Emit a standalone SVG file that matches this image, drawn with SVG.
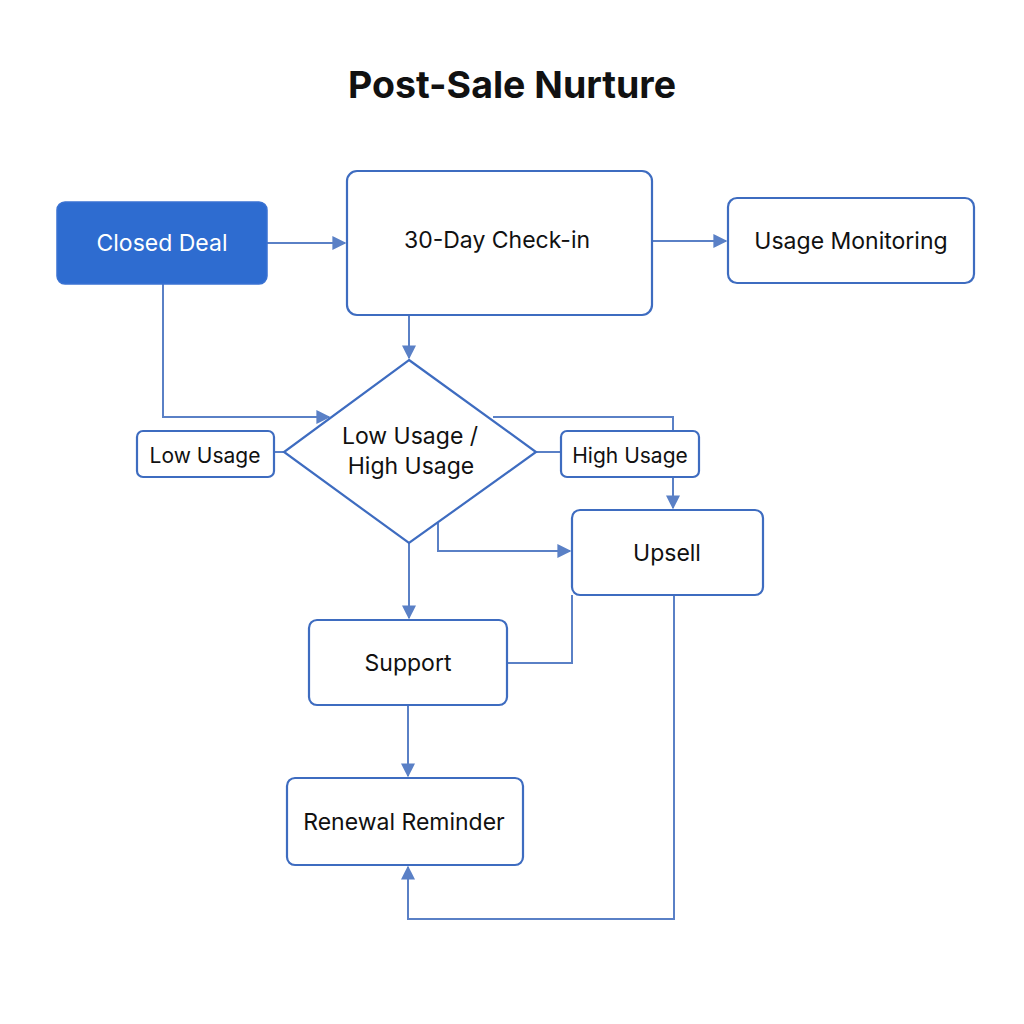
<svg xmlns="http://www.w3.org/2000/svg" width="1024" height="1024" viewBox="0 0 1024 1024">
<defs>
<marker id="arr" viewBox="0 0 10 10" refX="9" refY="5" markerWidth="14" markerHeight="14" markerUnits="userSpaceOnUse" orient="auto">
<path d="M0,0 L10,5 L0,10 z" fill="#5a80c6"/>
</marker>
<style>
.node{fill:#fff;stroke:#3e6cc0;stroke-width:2.2}
.lbl{font-family:Inter,"Liberation Sans",sans-serif;font-size:23px;fill:#111;text-anchor:middle;dominant-baseline:central}
.sm{font-size:21px}
.con{fill:none;stroke:#5a80c6;stroke-width:2}
</style>
</defs>
<rect width="1024" height="1024" fill="#fff"/>
<text x="512" y="84" font-family="Inter,'Liberation Sans',sans-serif" font-size="37.5" font-weight="700" text-anchor="middle" dominant-baseline="central" fill="#111">Post-Sale Nurture</text>
<g id="connectors">
<path class="con" d="M267,243 H345" marker-end="url(#arr)"/>
<path class="con" d="M652,241 H726" marker-end="url(#arr)"/>
<path class="con" d="M409,315 V358" marker-end="url(#arr)"/>
<path class="con" d="M163,284 V417 H329" marker-end="url(#arr)"/>
<path class="con" d="M284,452 H274"/>
<path class="con" d="M536,452 H561"/>
<path class="con" d="M493,417 H673 V431"/>
<path class="con" d="M673,477 V508" marker-end="url(#arr)"/>
<path class="con" d="M438,523 V551 H570" marker-end="url(#arr)"/>
<path class="con" d="M409,543 V618" marker-end="url(#arr)"/>
<path class="con" d="M507,663 H572 V595"/>
<path class="con" d="M408,705 V776" marker-end="url(#arr)"/>
<path class="con" d="M674,595 V919 H408 V867" marker-end="url(#arr)"/>
</g>
<g id="closed-deal">
<rect x="57" y="202" width="210" height="82" rx="8" fill="#2e6cd0" stroke="#3a72d2" stroke-width="1.5"/>
<text class="lbl" x="162" y="243" style="fill:#fff">Closed Deal</text>
</g>
<g id="check-in">
<rect class="node" x="347" y="171" width="305" height="144" rx="10"/>
<text class="lbl" x="497" y="240">30-Day Check-in</text>
</g>
<g id="usage-monitoring">
<rect class="node" x="728" y="198" width="246" height="85" rx="9"/>
<text class="lbl" x="851" y="241">Usage Monitoring</text>
</g>
<g id="decision">
<polygon class="node" points="409,360 536,452 409,543 284,452"/>
<text class="lbl" x="410" y="436">Low Usage /</text>
<text class="lbl" x="411" y="466">High Usage</text>
</g>
<g id="low-usage">
<rect class="node" x="137" y="431" width="137" height="46" rx="6"/>
<text class="lbl sm" x="205" y="455">Low Usage</text>
</g>
<g id="high-usage">
<rect class="node" x="561" y="431" width="138" height="46" rx="6"/>
<text class="lbl sm" x="630" y="455">High Usage</text>
</g>
<g id="upsell">
<rect class="node" x="572" y="510" width="191" height="85" rx="8"/>
<text class="lbl" x="667" y="553">Upsell</text>
</g>
<g id="support">
<rect class="node" x="309" y="620" width="198" height="85" rx="8"/>
<text class="lbl" x="408" y="663">Support</text>
</g>
<g id="renewal">
<rect class="node" x="287" y="778" width="236" height="87" rx="8"/>
<text class="lbl" x="404" y="822">Renewal Reminder</text>
</g>
</svg>
